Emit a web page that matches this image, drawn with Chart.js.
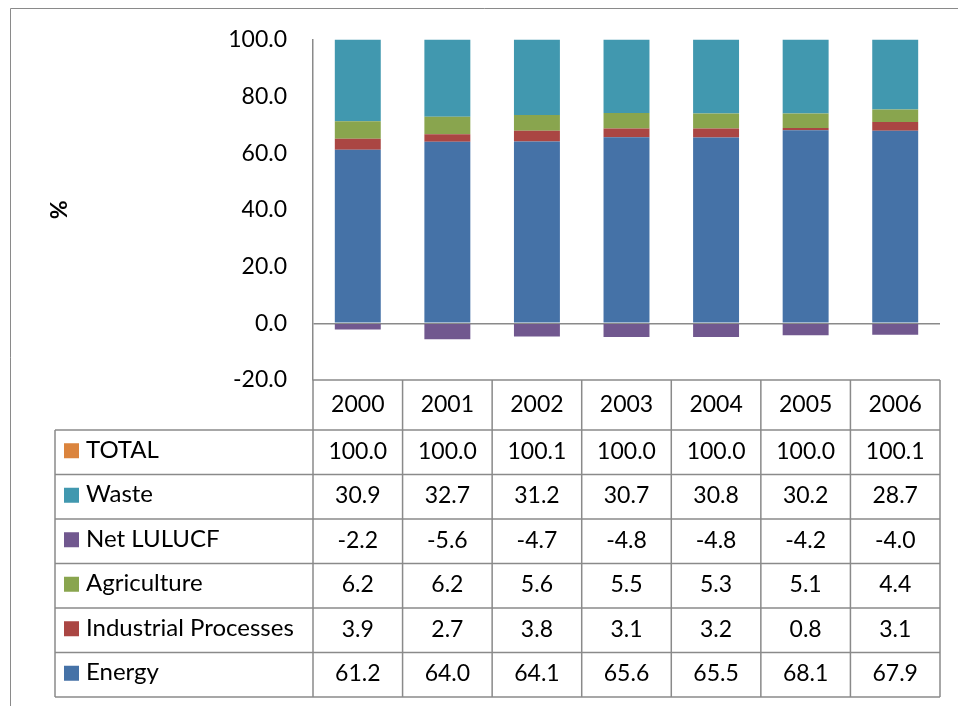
<!DOCTYPE html>
<html>
<head>
<meta charset="utf-8">
<script src="https://cdn.jsdelivr.net/npm/chart.js@4"></script>
<style>
  html, body { margin: 0; padding: 0; background: #fff; }
  #wrap { width: 958px; height: 706px; position: relative; }
</style>
</head>
<body>
<div id="wrap"><canvas id="chart"></canvas></div>
<script>
const years = ['2000', '2001', '2002', '2003', '2004', '2005', '2006'];
const total = [100.0, 100.0, 100.1, 100.0, 100.0, 100.0, 100.1];
const waste = [30.9, 32.7, 31.2, 30.7, 30.8, 30.2, 28.7];
const netLulucf = [-2.2, -5.6, -4.7, -4.8, -4.8, -4.2, -4.0];
const agriculture = [6.2, 6.2, 5.6, 5.5, 5.3, 5.1, 4.4];
const industrial = [3.9, 2.7, 3.8, 3.1, 3.2, 0.8, 3.1];
const energy = [61.2, 64.0, 64.1, 65.6, 65.5, 68.1, 67.9];

const FONT = 'Lato, "Open Sans", sans-serif';
const LINE = '#8a8a8a';

// table rows, top to bottom, as in the data table under the plot
const tableRows = [
    { label: 'TOTAL', color: '#DB843D', values: total },
    { label: 'Waste', color: '#4198AF', values: waste },
    { label: 'Net LULUCF', color: '#71588F', values: netLulucf },
    { label: 'Agriculture', color: '#89A54E', values: agriculture },
    { label: 'Industrial Processes', color: '#AA4643', values: industrial },
    { label: 'Energy', color: '#4572A7', values: energy }
];

// draws the frame and the data table under the plot area
const tablePlugin = {
    id: 'dataTable',
    afterDraw(chart) {
        const ctx = chart.ctx;
        const area = chart.chartArea;
        const xScale = chart.scales.x;
        const colW = (area.right - area.left) / years.length;
        const headTop = area.bottom;
        const headBottom = headTop + 50;
        const rowH = 44.5;
        const tableBottom = headBottom + rowH * tableRows.length;
        const labelLeft = 55;

        ctx.save();
        // outer frame
        ctx.strokeStyle = LINE;
        ctx.lineWidth = 1;
        ctx.beginPath();
        ctx.moveTo(10.5, 706);
        ctx.lineTo(10.5, 8.5);
        ctx.lineTo(958, 8.5);
        ctx.stroke();

        ctx.lineWidth = 1.5;
        ctx.beginPath();
        // horizontal lines
        ctx.moveTo(area.left, headTop);
        ctx.lineTo(area.right, headTop);
        for (let r = 0; r <= tableRows.length; r++) {
            const y = headBottom + r * rowH;
            ctx.moveTo(labelLeft, y);
            ctx.lineTo(area.right, y);
        }
        // vertical lines
        for (let c = 0; c <= years.length; c++) {
            const x = area.left + c * colW;
            ctx.moveTo(x, headTop);
            ctx.lineTo(x, tableBottom);
        }
        ctx.moveTo(labelLeft, headBottom);
        ctx.lineTo(labelLeft, tableBottom);
        ctx.stroke();

        ctx.fillStyle = '#000';
        ctx.font = '23px ' + FONT;
        ctx.textBaseline = 'middle';
        ctx.textAlign = 'center';
        years.forEach((yr, i) => {
            ctx.fillText(yr, xScale.getPixelForValue(i), (headTop + headBottom) / 2);
        });

        tableRows.forEach((row, r) => {
            const cy = headBottom + r * rowH + rowH / 2 - 2;
            ctx.fillStyle = row.color;
            ctx.fillRect(64, cy - 7, 15, 15);
            ctx.fillStyle = '#000';
            ctx.textAlign = 'left';
            ctx.font = '24px ' + FONT;
            ctx.fillText(row.label, 86, cy);
            ctx.textAlign = 'center';
            ctx.font = '23px ' + FONT;
            row.values.forEach((v, i) => {
                ctx.fillText(v.toFixed(1), xScale.getPixelForValue(i), cy + 1);
            });
        });
        ctx.restore();
    }
};

const ctx = document.getElementById('chart').getContext('2d');
new Chart(ctx, {
    type: 'bar',
    data: {
        labels: years,
        datasets: [
            { label: 'Energy', data: energy, backgroundColor: '#4572A7' },
            { label: 'Industrial Processes', data: industrial, backgroundColor: '#AA4643' },
            { label: 'Agriculture', data: agriculture, backgroundColor: '#89A54E' },
            { label: 'Net LULUCF', data: netLulucf, backgroundColor: '#71588F' },
            { label: 'Waste', data: waste, backgroundColor: '#4198AF' }
        ]
    },
    options: {
        responsive: true,
        maintainAspectRatio: false,
        animation: false,
        devicePixelRatio: 1,
        layout: {
            padding: { top: 37, bottom: 326, left: 0, right: 18 }
        },
        datasets: {
            bar: {
                categoryPercentage: 1,
                barPercentage: 0.513,
                borderWidth: 0
            }
        },
        plugins: {
            legend: { display: false },
            tooltip: { enabled: false }
        },
        scales: {
            x: {
                stacked: true,
                display: false
            },
            y: {
                stacked: true,
                min: -20,
                max: 100,
                afterFit(scale) {
                    scale.width = 313;
                },
                ticks: {
                    stepSize: 20,
                    padding: 26,
                    color: '#000',
                    font: { family: FONT, size: 23 },
                    callback: v => v.toFixed(1)
                },
                grid: {
                    drawTicks: false,
                    color: c => (c.tick && c.tick.value === 0 ? LINE : 'rgba(0,0,0,0)'),
                    lineWidth: 1.5
                },
                border: { color: LINE, width: 1.5 },
                title: {
                    display: true,
                    text: '%',
                    color: '#000',
                    font: { family: FONT, size: 23, weight: 'bold' },
                    padding: { top: 46, bottom: 0 }
                }
            }
        }
    },
    plugins: [tablePlugin]
});
</script>
</body>
</html>
